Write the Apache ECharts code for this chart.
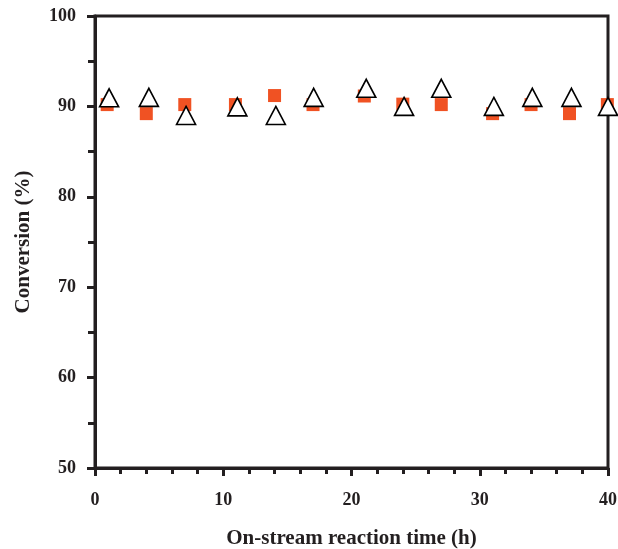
<!DOCTYPE html>
<html>
<head>
<meta charset="utf-8">
<script src="https://cdn.jsdelivr.net/npm/echarts@6/dist/echarts.min.js"></script>
<style>html,body{margin:0;padding:0;background:#fff}#c{width:618px;height:549px}</style>
</head>
<body>
<div id="c"></div>
<script>
// Data
const squareX = [0.95, 4.0, 7.0, 10.95, 14.0, 17.0, 21.0, 24.0, 27.0, 31.0, 34.0, 37.0, 39.95];
const squareY = [90.2, 89.2, 90.2, 90.2, 91.2, 90.2, 91.15, 90.25, 90.2, 89.2, 90.2, 89.2, 90.2];
const triX = [1.1, 4.2, 7.1, 11.1, 14.1, 17.05, 21.15, 24.1, 27.0, 31.1, 34.1, 37.15, 40.0];
const triY = [90.95, 91.0, 89.0, 89.95, 89.0, 91.0, 92.0, 90.0, 92.0, 90.0, 91.0, 91.0, 90.0];
const xTicks = [0, 10, 20, 30, 40];
const yTicks = [50, 60, 70, 80, 90, 100];

const ink = '#231f20';
const font = 'Liberation Serif';
const chart = echarts.init(document.getElementById('c'));
chart.setOption({
  animation: false,
  grid: { left: 95, right: 10, top: 16, bottom: 81, outerBoundsMode: 'none', containLabel: false, show: true, borderColor: ink, borderWidth: 3, backgroundColor: 'transparent' },
  xAxis: {
    type: 'value', min: xTicks[0], max: xTicks[xTicks.length - 1], interval: 10,
    name: 'On-stream reaction time (h)', nameLocation: 'middle', nameGap: 60,
    nameTextStyle: { fontFamily: font, fontWeight: 'bold', fontSize: 21, color: ink },
    axisLine: { lineStyle: { color: ink, width: 3 } },
    axisTick: { length: 8, lineStyle: { color: ink, width: 3 } },
    minorTick: { show: true, splitNumber: 5, length: 6, lineStyle: { color: ink, width: 3 } },
    axisLabel: { fontFamily: font, fontWeight: 'bold', fontSize: 18, color: ink, margin: 23 },
    splitLine: { show: false }
  },
  yAxis: {
    type: 'value', min: yTicks[0], max: yTicks[yTicks.length - 1], interval: 10,
    name: 'Conversion (%)', nameLocation: 'middle', nameGap: 61, nameRotate: 90,
    nameTextStyle: { fontFamily: font, fontWeight: 'bold', fontSize: 21, color: ink },
    axisLine: { lineStyle: { color: ink, width: 3 } },
    axisTick: { length: 8, lineStyle: { color: ink, width: 3 } },
    minorTick: { show: true, splitNumber: 2, length: 7, lineStyle: { color: ink, width: 3 } },
    axisLabel: { fontFamily: font, fontWeight: 'bold', fontSize: 18, color: ink, margin: 19, padding: [9, 0, 0, 0] },
    splitLine: { show: false }
  },
  series: [
    {
      type: 'scatter', clip: false, symbol: 'rect', symbolSize: 13,
      itemStyle: { color: '#f05223', opacity: 1 },
      data: squareX.map((x, i) => [x, squareY[i]]), z: 2
    },
    {
      type: 'scatter', clip: false, symbol: 'triangle', symbolSize: [19, 18],
      itemStyle: { color: '#ffffff', borderColor: '#000000', borderWidth: 1.6, opacity: 1 },
      data: triX.map((x, i) => [x, triY[i]]), z: 3
    }
  ]
});
</script>
</body>
</html>
